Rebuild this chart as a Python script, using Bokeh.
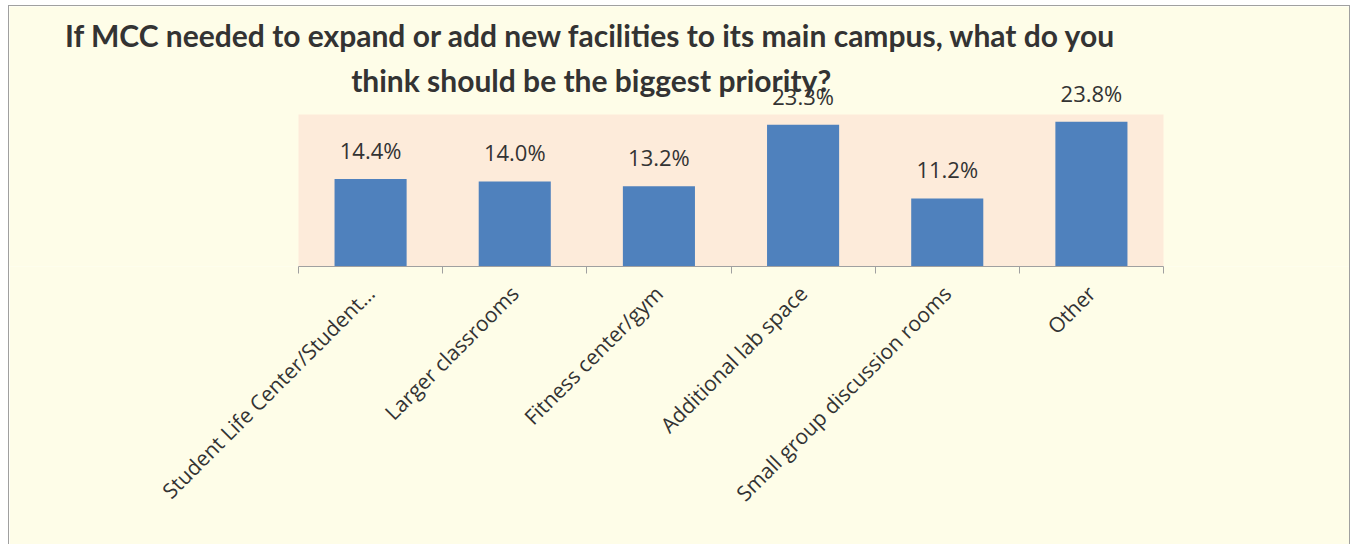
from bokeh.plotting import figure
from bokeh.models import (ColumnDataSource, Range1d, LinearAxis, FixedTicker, LabelSet, Label,
                          BoxAnnotation)
from bokeh.core.properties import value
from bokeh.embed import file_html
from bokeh.resources import INLINE
import math

# ---- data ----
categories = ["Student Life Center/Student\u2026", "Larger classrooms", "Fitness center/gym",
              "Additional lab space", "Small group discussion rooms", "Other"]
values = [14.4, 14.0, 13.2, 23.3, 11.2, 23.8]
value_labels = [f"{v:.1f}%" for v in values]
title_lines = ["If MCC needed to expand or add new facilities to its main campus, what do you",
               "think should be the biggest priority?"]
y_max = 25

BG = "#FEFDE8"
PLOT_BG = "#FDEBDA"
BAR = "#4F81BD"
TXT = "#333333"
AX = "#A0A0A0"

n = len(categories)
xpos = [i + 0.5 for i in range(n)]

# layout geometry (pixels)
W, H = 1342, 539
plot_left, plot_right = 289, 1154      # peach plot area inside the figure
plot_top, plot_bottom = 108, 260
ux = (plot_right - plot_left) / n
uy = (plot_bottom - plot_top) / y_max

p = figure(x_range=Range1d(-plot_left / ux, n + (W - plot_right) / ux),
           y_range=Range1d(0, plot_bottom / uy),
           width=W, height=H, output_backend="svg", toolbar_location=None,
           x_axis_location=None, y_axis_location=None,
           min_border_left=0, min_border_right=0, min_border_top=0,
           min_border_bottom=H - plot_bottom)
p.background_fill_color = BG
p.border_fill_color = BG
p.outline_line_color = None
p.grid.visible = False
p.styles = {"margin-left": "8px", "margin-top": "5px",
            "border-left": "1px solid #a0a0a0", "border-top": "1px solid #a0a0a0",
            "border-right": "1px solid #a0a0a0"}

p.add_layout(BoxAnnotation(left=0, right=n, bottom=0, top=y_max, fill_color=PLOT_BG,
                           fill_alpha=1, line_color=None, level="underlay"))

src = ColumnDataSource(dict(x=xpos, cat=categories, val=values, lab=value_labels))
p.vbar(x="x", top="val", width=0.5, source=src, fill_color=BAR, line_color=None)

# category axis: labels at category centres, tick marks at category boundaries
cat_axis = LinearAxis(ticker=FixedTicker(ticks=xpos, minor_ticks=list(range(n + 1))),
                      bounds=(0, n),
                      major_label_overrides={x: c for x, c in zip(xpos, categories)},
                      axis_line_color=AX, major_tick_line_color=None,
                      major_tick_in=0, major_tick_out=7,
                      minor_tick_line_color=AX, minor_tick_in=0, minor_tick_out=7,
                      major_label_orientation=math.pi / 4,
                      major_label_text_font="Open Sans", major_label_text_font_size="21px",
                      major_label_text_color=TXT, major_label_standoff=16)
p.add_layout(cat_axis, "below")

p.add_layout(LabelSet(x="x", y="val", text="lab", source=src, text_align="center",
                      text_baseline="middle", y_offset=29, text_font=value("Open Sans"),
                      text_font_size="22px", text_color=TXT))

for txt, yy in zip(title_lines, [38.0, 30.6]):
    p.add_layout(Label(x=2.03, y=yy, text=txt, text_align="center", text_baseline="middle",
                       text_font="Lato", text_font_style="bold", text_font_size="30px",
                       text_color=TXT))

open("out.html", "w").write(file_html(p, INLINE))
